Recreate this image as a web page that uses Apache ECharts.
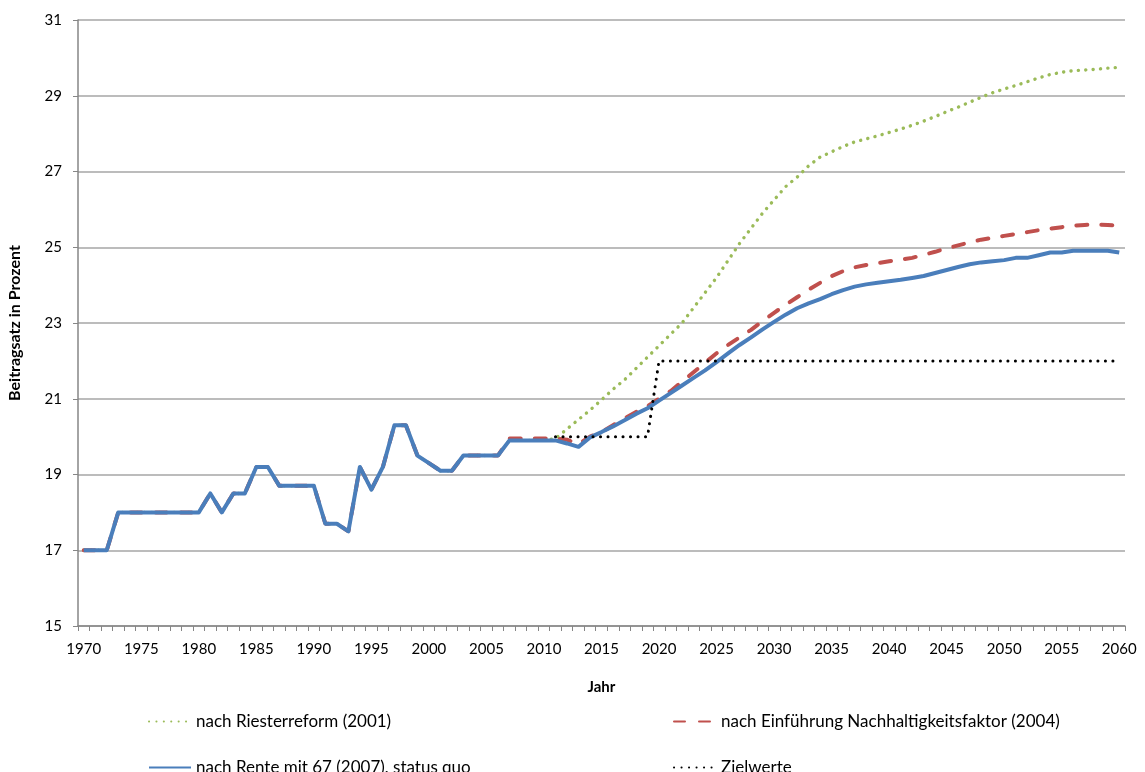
<!DOCTYPE html>
<html><head><meta charset="utf-8">
<script src="https://cdn.jsdelivr.net/npm/echarts@6/dist/echarts.min.js"></script>
<style>html,body{margin:0;padding:0;background:#fff}#c{width:1145px;height:772px}</style>
</head><body><div id="c"></div>
<script>
const years = [];
for (let y = 1970; y <= 2060; y++) years.push(String(y));

// historical contribution rates 1970-2006
const history = [17.0,17.0,17.0,18.0,18.0,18.0,18.0,18.0,18.0,18.0,18.0,18.5,18.0,18.5,18.5,19.2,19.2,18.7,18.7,18.7,18.7,17.7,17.7,17.5,19.2,18.6,19.2,20.3,20.3,19.5,19.3,19.1,19.1,19.5,19.5,19.5,19.5];

// nach Riesterreform (2001): 2007-2060
const riester = [19.9,19.9,19.9,19.9,19.95,20.2,20.45,20.7,20.97,21.25,21.5,21.8,22.1,22.4,22.7,23.0,23.4,23.8,24.2,24.65,25.1,25.5,25.9,26.25,26.6,26.85,27.15,27.38,27.52,27.66,27.78,27.86,27.94,28.03,28.12,28.22,28.33,28.45,28.58,28.7,28.83,28.96,29.08,29.18,29.27,29.37,29.47,29.56,29.62,29.66,29.68,29.7,29.73,29.75];

// nach Einführung Nachhaltigkeitsfaktor (2004): 2007-2060
const nachhaltigkeit = [19.95,19.95,19.95,19.95,19.95,19.92,19.8,20.0,20.12,20.3,20.48,20.65,20.8,21.0,21.2,21.45,21.7,21.95,22.2,22.42,22.62,22.82,23.05,23.27,23.48,23.68,23.88,24.06,24.24,24.37,24.47,24.53,24.58,24.63,24.67,24.72,24.8,24.88,24.97,25.05,25.13,25.2,25.25,25.3,25.35,25.4,25.45,25.49,25.53,25.57,25.59,25.6,25.59,25.56];

// nach Rente mit 67 (2007), status quo: 2007-2060
const rente67 = [19.9,19.9,19.9,19.9,19.9,19.82,19.73,19.98,20.12,20.27,20.43,20.6,20.75,20.95,21.15,21.35,21.55,21.75,21.97,22.2,22.42,22.62,22.83,23.03,23.22,23.39,23.52,23.63,23.76,23.87,23.96,24.02,24.06,24.1,24.14,24.19,24.24,24.32,24.4,24.48,24.55,24.6,24.63,24.66,24.72,24.72,24.79,24.86,24.86,24.91,24.91,24.91,24.91,24.86];

// Zielwerte: 2011-2060
const zielwerte = [20,20,20,20,20,20,20,20,20,22,22,22,22,22,22,22,22,22,22,22,22,22,22,22,22,22,22,22,22,22,22,22,22,22,22,22,22,22,22,22,22,22,22,22,22,22,22,22,22,22];

const names = ['nach Riesterreform (2001)','nach Einführung Nachhaltigkeitsfaktor (2004)','nach Rente mit 67 (2007), status quo','Zielwerte'];

const pad = (n) => Array(n).fill(null);
const greenData = history.concat(riester);
const redData = history.concat(nachhaltigkeit);
const blueData = history.concat(rente67);
const blackData = pad(2011 - 1970).concat(zielwerte);

const FONT = 'Lato';
const chart = echarts.init(document.getElementById('c'), null, {renderer: 'canvas'});
const legendBase = {textStyle: {fontFamily: FONT, fontSize: 17, color: '#000'}, itemWidth: 42, itemHeight: 14, itemGap: 5, selectedMode: false, itemStyle: {opacity: 0}};
chart.setOption({
  animation: false,
  textStyle: {fontFamily: FONT},
  grid: {left: 78, right: 20, top: 20, bottom: 146, containLabel: false, outerBoundsMode: 'none'},
  xAxis: {
    type: 'category', data: years, boundaryGap: true,
    name: 'Jahr', nameLocation: 'middle', nameGap: 54,
    nameTextStyle: {fontFamily: FONT, fontWeight: 'bold', fontSize: 15, color: '#000'},
    axisLine: {lineStyle: {color: '#868686', width: 1.5}},
    axisTick: {show: true, interval: 0, length: 5, lineStyle: {color: '#868686'}},
    axisLabel: {interval: 4, fontFamily: FONT, fontSize: 15, color: '#000', margin: 16}
  },
  yAxis: {
    type: 'value', min: 15, max: 31, interval: 2,
    name: 'Beitragsatz in Prozent', nameLocation: 'middle', nameGap: 55, nameRotate: 90,
    nameTextStyle: {fontFamily: FONT, fontWeight: 'bold', fontSize: 16, color: '#000'},
    axisLine: {show: true, lineStyle: {color: '#868686', width: 1.5}},
    axisTick: {show: true, length: 5, lineStyle: {color: '#868686'}},
    axisLabel: {fontFamily: FONT, fontSize: 15, color: '#000', margin: 16},
    splitLine: {lineStyle: {color: '#a6a6a6', width: 1.5}}
  },
  legend: [
    Object.assign({data: [names[0]], left: 143, top: 708}, legendBase),
    Object.assign({data: [names[1]], left: 668, top: 708}, legendBase),
    Object.assign({data: [names[2]], left: 143, top: 754}, legendBase),
    Object.assign({data: [names[3]], left: 668, top: 754}, legendBase)
  ],
  series: [
    {name: names[0], type: 'line', data: greenData, showSymbol: false, symbol: 'none', z: 2,
     lineStyle: {color: '#9BBB59', width: 3.4, type: [0.1, 7.3], cap: 'round'}, itemStyle: {color: '#9BBB59'}},
    {name: names[1], type: 'line', data: redData, showSymbol: false, symbol: 'none', z: 3,
     lineStyle: {color: '#C0504D', width: 4, type: [11, 14], cap: 'round'}, itemStyle: {color: '#C0504D'}},
    {name: names[2], type: 'line', data: blueData, showSymbol: false, symbol: 'none', z: 4,
     lineStyle: {color: '#4A7EBB', width: 4, join: 'round'}, itemStyle: {color: '#4A7EBB'}},
    {name: names[3], type: 'line', data: blackData, showSymbol: false, symbol: 'none', z: 5,
     lineStyle: {color: '#000', width: 3, type: [0.1, 7.4], cap: 'round'}, itemStyle: {color: '#000'}}
  ]
});
</script></body></html>
